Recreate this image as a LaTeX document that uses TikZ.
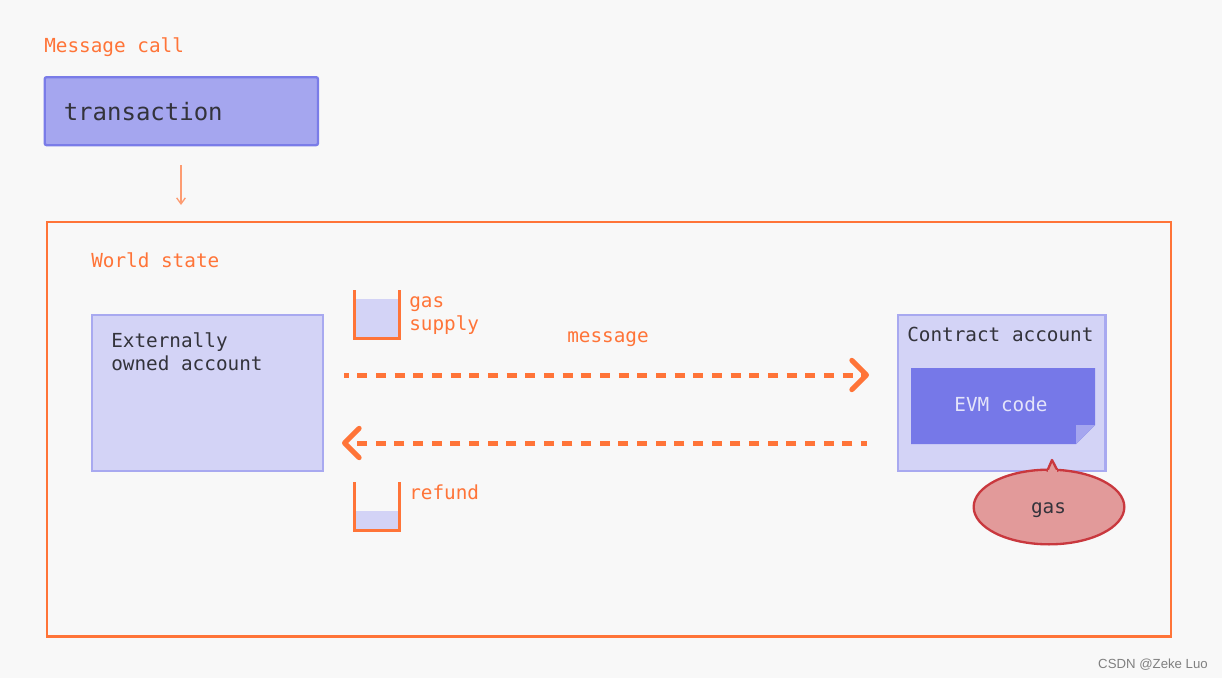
\documentclass[tikz,border=0pt]{standalone}
\usepackage{fontspec}
\setmonofont{DejaVu Sans Mono}
\setsansfont{Liberation Sans}
\usetikzlibrary{arrows.meta,shapes.geometric}
\definecolor{pagebg}{HTML}{F8F8F8}
\definecolor{accent}{HTML}{FF7438}
\definecolor{lilac}{HTML}{D3D3F6}
\definecolor{lilacedge}{HTML}{A8A9F0}
\definecolor{violet}{HTML}{A5A6EF}
\definecolor{violetedge}{HTML}{7A7CE8}
\definecolor{indigo}{HTML}{7678E8}
\definecolor{inktext}{HTML}{33333B}
\definecolor{gasfill}{HTML}{E29A9A}
\definecolor{gasedge}{HTML}{C9383E}
\tikzset{
  x=0.75pt,y=-0.75pt,
  lbl/.style={font=\ttfamily\fontsize{14.5}{17.25}\selectfont,inner sep=0pt,anchor=base west,align=left},
  orangelbl/.style={lbl,text=accent},
  account/.style={draw=lilacedge,fill=lilac,line width=1.75pt,inner sep=0pt},
  flow/.style={draw=accent,line width=3.75pt,
    -{Straight Barb[length=11pt,width=22pt,line width=3.75pt,round]}},
  bucket/.style={draw=accent,line width=1.75pt},
}
\begin{document}
\begin{tikzpicture}
\useasboundingbox (0,0) rectangle (1222,678);
\fill[pagebg] (0,0) rectangle (1222,678);

% header
\node[orangelbl] (title) at (44,52) {Message call};
\node[draw=violetedge,fill=violet,line width=1.75pt,rounded corners=1.5pt,inner sep=0pt,minimum width=205pt,minimum height=51pt,anchor=north west] (tx) at (43.5,76) {};
\node[lbl,text=inktext,font=\ttfamily\fontsize{18}{21}\selectfont] (txlabel) at (63.5,120) {transaction};

% world state frame
\node[draw=accent,line width=1.75pt,inner sep=0pt,minimum width=843pt,minimum height=311pt,anchor=north west] (world) at (45.5,220.5) {};
\node[orangelbl] (wslabel) at (91,267) {World state};

% link from the transaction into the world state
\coordinate (txout) at (181,165);
\coordinate (wsin) at (181,205);
\draw[draw=accent!70!pagebg,line width=1pt,-{Straight Barb[length=4.5pt,width=6.5pt,line width=1pt]}] (txout) -- (wsin);

% accounts
\node[account,minimum width=173pt,minimum height=117pt,anchor=north west] (eoa) at (91,313.5) {};
\node[lbl,text=inktext] (eoalabel) at (111,370) {Externally\\owned account};
\node[account,minimum width=155.5pt,minimum height=117pt,anchor=north west] (contract) at (897,313.5) {};
\node[lbl,text=inktext] (contractlabel) at (907,341) {Contract account};

% EVM code sheet with a folded corner
\path[fill=indigo] (911,368) -- (1095,368) -- (1095,425) -- (1076,444) -- (911,444) -- cycle;
\path[fill=violet] (1076,425) -- (1095,425) -- (1076,444) -- cycle;
\node[lbl,text=lilac!60!white,anchor=base] (evm) at (1001,411) {EVM code};

% gas balloon
\node[ellipse,draw=gasedge,fill=gasfill,line width=1.75pt,inner sep=0pt,minimum width=113pt,minimum height=56pt] (gasbubble) at (1049,507) {};
\path[fill=gasfill,draw=gasedge,line width=1.75pt,line join=round] (1047,471.5) -- (1052,460) -- (1058,471.5);
\path[fill=gasfill] (1048,470) rectangle (1057,474);
\node[lbl,text=inktext,anchor=base] (gaslabel) at (1048.5,513) {gas};

% supply and refund gauges
\path[fill=lilac] (355,299) rectangle (399,338);
\draw[bucket] (354.5,290) -- (354.5,338.5) -- (399.5,338.5) -- (399.5,290);
\node[orangelbl] (supplylabel) at (409,330) {gas\\supply};
\path[fill=lilac] (355,511) rectangle (399,530);
\draw[bucket] (354.5,482) -- (354.5,530.5) -- (399.5,530.5) -- (399.5,482);
\node[orangelbl] (refundlabel) at (409,499) {refund};

% message and its return
\coordinate (sendstart) at (344,375);
\coordinate (sendend) at (869,375);
\coordinate (backstart) at (867,443);
\coordinate (backend) at (342,443);
\draw[flow,dash pattern=on 7.5pt off 6.5pt,dash phase=4pt] (sendstart) -- (sendend);
\draw[flow,dash pattern=on 7.5pt off 6.5pt,dash phase=3pt] (backstart) -- (backend);
\node[orangelbl] (msglabel) at (567,342) {message};

% image credit
\node[font=\sffamily\fontsize{9.9}{11}\selectfont,text=black!50,inner sep=0pt,anchor=base east] (credit) at (1208,668) {CSDN @Zeke Luo};
\end{tikzpicture}
\end{document}
